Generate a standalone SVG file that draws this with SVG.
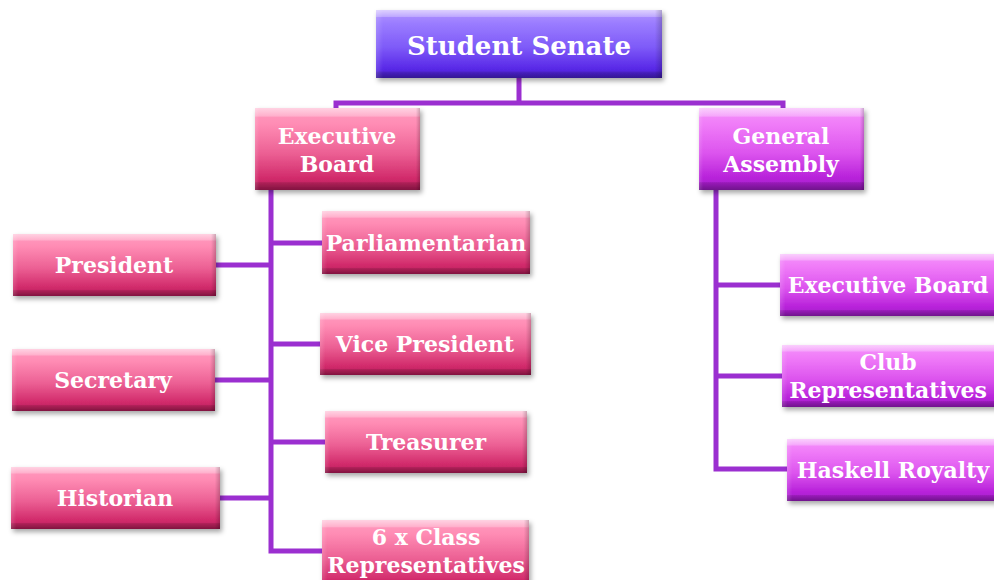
<svg xmlns="http://www.w3.org/2000/svg" width="994" height="580" viewBox="0 0 994 580">
<style>
.t{font-family:"DejaVu Serif","Liberation Serif",serif;font-weight:bold;fill:#fff;text-anchor:middle;}
.s{font-size:22px;}
.big{font-size:26px;}
.c{fill:none;stroke:#9b2fd0;stroke-width:5;stroke-linejoin:miter;}
.bv{fill:url(#gBevV);}
.bh{fill:url(#gBevH);}
</style>
<defs>
<linearGradient id="gPink" x1="0" y1="0" x2="0" y2="1">
<stop offset="0" stop-color="#ff9cc0"/><stop offset="0.2" stop-color="#ff8cb4"/><stop offset="0.55" stop-color="#ec6094"/><stop offset="0.85" stop-color="#d22c6c"/><stop offset="1" stop-color="#b81c5a"/>
</linearGradient>
<linearGradient id="gMag" x1="0" y1="0" x2="0" y2="1">
<stop offset="0" stop-color="#f494fb"/><stop offset="0.2" stop-color="#f07cf8"/><stop offset="0.55" stop-color="#dc54ee"/><stop offset="0.85" stop-color="#b822da"/><stop offset="1" stop-color="#a01cc8"/>
</linearGradient>
<linearGradient id="gPur" x1="0" y1="0" x2="0" y2="1">
<stop offset="0" stop-color="#b496ff"/><stop offset="0.2" stop-color="#9a7cff"/><stop offset="0.55" stop-color="#7e5af8"/><stop offset="0.85" stop-color="#5a2ae8"/><stop offset="1" stop-color="#4a20d0"/>
</linearGradient>
<linearGradient id="gBevV" x1="0" y1="0" x2="0" y2="1">
<stop offset="0" stop-color="#fff" stop-opacity="0.55"/><stop offset="0.1" stop-color="#fff" stop-opacity="0.25"/><stop offset="0.11" stop-color="#fff" stop-opacity="0"/><stop offset="0.9" stop-color="#000" stop-opacity="0"/><stop offset="0.91" stop-color="#000" stop-opacity="0.12"/><stop offset="1" stop-color="#000" stop-opacity="0.3"/>
</linearGradient>
<linearGradient id="gBevH" x1="0" y1="0" x2="1" y2="0">
<stop offset="0" stop-color="#fff" stop-opacity="0.15"/><stop offset="0.025" stop-color="#fff" stop-opacity="0"/><stop offset="0.975" stop-color="#000" stop-opacity="0"/><stop offset="1" stop-color="#000" stop-opacity="0.2"/>
</linearGradient>
<filter id="sh" x="-10%" y="-10%" width="125%" height="140%">
<feDropShadow dx="2" dy="3" stdDeviation="2.5" flood-color="#000" flood-opacity="0.35"/>
</filter>
</defs>
<g id="connectors">
<polyline class="c" points="519,78 519,103"/>
<polyline class="c" points="336,108 336,103 783,103 783,108"/>
<polyline class="c" points="271,190 271,551 322,551"/>
<line class="c" x1="271" y1="243" x2="322" y2="243"/>
<line class="c" x1="216" y1="265" x2="271" y2="265"/>
<line class="c" x1="271" y1="344" x2="320" y2="344"/>
<line class="c" x1="215" y1="380" x2="271" y2="380"/>
<line class="c" x1="271" y1="442" x2="325" y2="442"/>
<line class="c" x1="220" y1="498" x2="271" y2="498"/>
<polyline class="c" points="716,190 716,469 787,469"/>
<line class="c" x1="716" y1="285" x2="780" y2="285"/>
<line class="c" x1="716" y1="376" x2="782" y2="376"/>
</g>
<g id="student-senate">
<rect x="376" y="10" width="286" height="68" fill="url(#gPur)" filter="url(#sh)"/>
<rect class="bv" x="376" y="10" width="286" height="68"/><rect class="bh" x="376" y="10" width="286" height="68"/>
<text class="t big" x="519" y="55">Student Senate</text>
</g>
<g id="executive-board">
<rect x="255" y="108" width="165" height="82" fill="url(#gPink)" filter="url(#sh)"/>
<rect class="bv" x="255" y="108" width="165" height="82"/><rect class="bh" x="255" y="108" width="165" height="82"/>
<text class="t s" x="337" y="144">Executive</text>
<text class="t s" x="337" y="172">Board</text>
</g>
<g id="general-assembly">
<rect x="699" y="108" width="165" height="82" fill="url(#gMag)" filter="url(#sh)"/>
<rect class="bv" x="699" y="108" width="165" height="82"/><rect class="bh" x="699" y="108" width="165" height="82"/>
<text class="t s" x="781" y="144">General</text>
<text class="t s" x="781" y="172">Assembly</text>
</g>
<g id="parliamentarian">
<rect x="322" y="211" width="208" height="63" fill="url(#gPink)" filter="url(#sh)"/>
<rect class="bv" x="322" y="211" width="208" height="63"/><rect class="bh" x="322" y="211" width="208" height="63"/>
<text class="t s" x="426" y="251">Parliamentarian</text>
</g>
<g id="president">
<rect x="13" y="234" width="203" height="62" fill="url(#gPink)" filter="url(#sh)"/>
<rect class="bv" x="13" y="234" width="203" height="62"/><rect class="bh" x="13" y="234" width="203" height="62"/>
<text class="t s" x="114" y="273">President</text>
</g>
<g id="vice-president">
<rect x="320" y="313" width="211" height="62" fill="url(#gPink)" filter="url(#sh)"/>
<rect class="bv" x="320" y="313" width="211" height="62"/><rect class="bh" x="320" y="313" width="211" height="62"/>
<text class="t s" x="425" y="352">Vice President</text>
</g>
<g id="secretary">
<rect x="12" y="349" width="203" height="62" fill="url(#gPink)" filter="url(#sh)"/>
<rect class="bv" x="12" y="349" width="203" height="62"/><rect class="bh" x="12" y="349" width="203" height="62"/>
<text class="t s" x="113" y="388">Secretary</text>
</g>
<g id="treasurer">
<rect x="325" y="411" width="202" height="62" fill="url(#gPink)" filter="url(#sh)"/>
<rect class="bv" x="325" y="411" width="202" height="62"/><rect class="bh" x="325" y="411" width="202" height="62"/>
<text class="t s" x="426" y="450">Treasurer</text>
</g>
<g id="historian">
<rect x="11" y="467" width="209" height="62" fill="url(#gPink)" filter="url(#sh)"/>
<rect class="bv" x="11" y="467" width="209" height="62"/><rect class="bh" x="11" y="467" width="209" height="62"/>
<text class="t s" x="115" y="506">Historian</text>
</g>
<g id="class-reps">
<rect x="322" y="520" width="207" height="70" fill="url(#gPink)" filter="url(#sh)"/>
<rect class="bv" x="322" y="520" width="207" height="70"/><rect class="bh" x="322" y="520" width="207" height="70"/>
<text class="t s" x="426" y="545">6 x Class</text>
<text class="t s" x="426" y="573">Representatives</text>
</g>
<g id="ga-executive-board">
<rect x="780" y="254" width="220" height="62" fill="url(#gMag)" filter="url(#sh)"/>
<rect class="bv" x="780" y="254" width="220" height="62"/><rect class="bh" x="780" y="254" width="220" height="62"/>
<text class="t s" x="888" y="293">Executive Board</text>
</g>
<g id="club-reps">
<rect x="782" y="345" width="218" height="62" fill="url(#gMag)" filter="url(#sh)"/>
<rect class="bv" x="782" y="345" width="218" height="62"/><rect class="bh" x="782" y="345" width="218" height="62"/>
<text class="t s" x="888" y="370">Club</text>
<text class="t s" x="888" y="398">Representatives</text>
</g>
<g id="haskell-royalty">
<rect x="787" y="439" width="213" height="62" fill="url(#gMag)" filter="url(#sh)"/>
<rect class="bv" x="787" y="439" width="213" height="62"/><rect class="bh" x="787" y="439" width="213" height="62"/>
<text class="t s" x="893" y="478">Haskell Royalty</text>
</g>
</svg>
